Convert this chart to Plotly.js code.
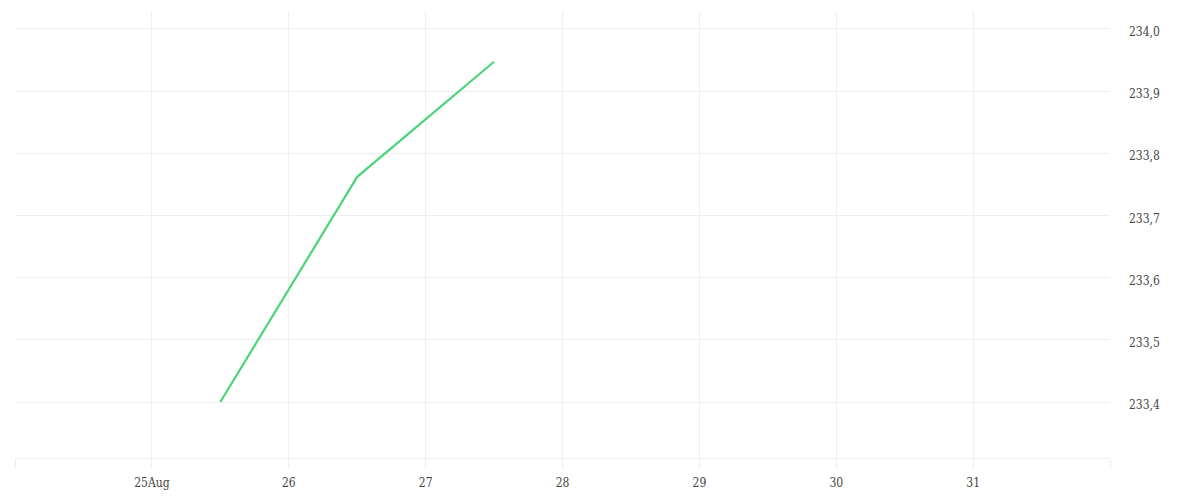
<!DOCTYPE html>
<html>
<head>
<meta charset="utf-8">
<script src="https://cdn.plot.ly/plotly-3.0.1.min.js"></script>
<style>
  html, body { margin: 0; padding: 0; background: #fff; }
  #mainPlot { width: 1200px; height: 500px; }
</style>
</head>
<body>
<div id="mainPlot"></div>
<script>
// Series (one point per day, at midday)
const dates = ['2024-08-25 12:00', '2024-08-26 12:00', '2024-08-27 12:00'];
const values = [233.40, 233.762, 233.947];

// Day ticks along the bottom (edge days have no label)
const tickDates = ['2024-08-24', '2024-08-25', '2024-08-26', '2024-08-27', '2024-08-28',
                   '2024-08-29', '2024-08-30', '2024-08-31', '2024-09-01'];
const tickLabels = ['', '25Aug', '26', '27', '28', '29', '30', '31', ''];

// Value ticks on the right
const yTicks = [233.4, 233.5, 233.6, 233.7, 233.8, 233.9, 234.0];

let trace = {
  x: dates,
  y: values,
  type: 'scatter',
  mode: 'lines',
  line: {color: '#4cd47b', width: 2.2},
  hoverinfo: 'x+y'
};

let layout = {
  width: 1200,
  height: 500,
  margin: {l: 15, r: 90, t: 12, b: 42},
  paper_bgcolor: '#fff',
  plot_bgcolor: '#fff',
  showlegend: false,
  separators: ',.',
  font: {family: 'DejaVu Serif Condensed, DejaVu Serif, serif', size: 12, color: '#444'},
  xaxis: {
    type: 'date',
    range: ['2024-08-24', '2024-09-01'],
    tickvals: tickDates,
    ticktext: tickLabels,
    showgrid: true,
    gridcolor: '#eeeeee',
    gridwidth: 1,
    showline: true,
    linecolor: '#eeeeee',
    linewidth: 1,
    ticks: 'outside',
    ticklen: 10,
    tickcolor: '#eeeeee',
    ticklabelstandoff: 4,
    zeroline: false,
    tickfont: {size: 12, color: '#444'}
  },
  yaxis: {
    side: 'right',
    range: [233.31, 234.027],
    tickvals: yTicks,
    tickformat: '.1f',
    showgrid: true,
    gridcolor: '#eeeeee',
    gridwidth: 1,
    zeroline: false,
    showline: false,
    ticks: '',
    ticklabelstandoff: 18,
    ticklabelshift: 3,
    tickfont: {size: 12, color: '#444'}
  }
};

Plotly.newPlot('mainPlot', [trace], layout, {displayModeBar: false, staticPlot: true});
</script>
</body>
</html>
